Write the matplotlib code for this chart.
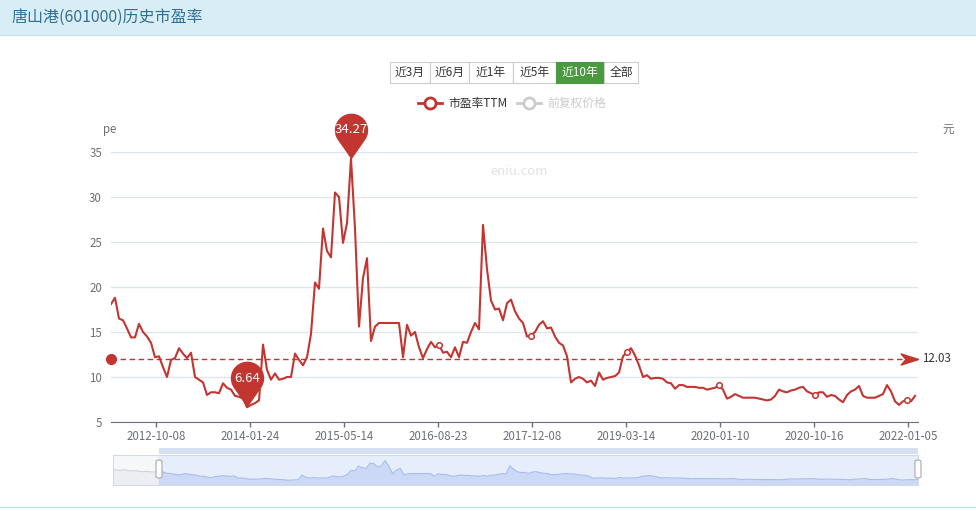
import matplotlib
matplotlib.use("Agg")
import matplotlib.pyplot as plt
import numpy as np
from matplotlib.path import Path
from matplotlib.patches import Rectangle, FancyBboxPatch
from matplotlib.lines import Line2D

plt.rcParams['font.family'] = ['Noto Sans CJK SC', 'DejaVu Sans']

# ---- data (pe ttm, roughly one value every 4 px) ----
title = "唐山港(601000)历史市盈率"
range_buttons = ["近3月", "近6月", "近1年", "近5年", "近10年", "全部"]
active_button = "近10年"
legend_names = ["市盈率TTM", "前复权价格"]
date_labels = ["2012-10-08", "2014-01-24", "2015-05-14", "2016-08-23", "2017-12-08",
               "2019-03-14", "2020-01-10", "2020-10-16", "2022-01-05"]
pe = [18.1, 18.8, 16.5, 16.3, 15.4, 14.4, 14.4, 15.9, 15.0, 14.5,
      13.8, 12.2, 12.3, 11.1, 10.0, 11.9, 12.1, 13.2, 12.6, 12.1,
      12.7, 10.0, 9.7, 9.4, 8.0, 8.3, 8.3, 8.2, 9.3, 8.8,
      8.6, 7.9, 7.8, 7.6, 6.64, 6.9, 7.1, 7.4, 13.6, 10.8,
      9.7, 10.4, 9.7, 9.8, 10.0, 10.0, 12.6, 11.9, 11.3, 12.2,
      14.8, 20.5, 19.8, 26.5, 24.0, 23.3, 30.5, 30.0, 24.9, 27.1,
      34.27, 26.5, 15.6, 21.0, 23.2, 14.0, 15.6, 16.0, 16.0, 16.0,
      16.0, 16.0, 16.0, 12.2, 15.8, 14.6, 15.0, 13.3, 12.1, 13.1,
      13.9, 13.3, 13.6, 12.7, 12.8, 12.2, 13.3, 12.2, 13.9, 13.8,
      15.0, 16.0, 15.3, 26.9, 22.0, 18.5, 17.5, 17.6, 16.3, 18.2,
      18.6, 17.3, 16.5, 16.0, 14.5, 14.6, 15.0, 15.8, 16.2, 15.4,
      15.5, 14.5, 13.8, 13.5, 12.3, 9.4, 9.8, 10.0, 9.8, 9.4,
      9.6, 9.0, 10.5, 9.7, 9.9, 10.0, 10.1, 10.5, 12.3, 12.8,
      13.2, 12.4, 11.3, 10.0, 10.2, 9.8, 9.9, 9.9, 9.8, 9.4,
      9.3, 8.7, 9.1, 9.1, 8.9, 8.9, 8.9, 8.8, 8.8, 8.6,
      8.7, 8.8, 9.1, 8.6, 7.6, 7.8, 8.1, 7.9, 7.7, 7.7,
      7.7, 7.7, 7.6, 7.5, 7.4, 7.5, 7.9, 8.6, 8.4, 8.3,
      8.5, 8.6, 8.8, 8.9, 8.4, 8.2, 8.0, 8.3, 8.3, 7.8,
      8.0, 7.9, 7.5, 7.2, 8.0, 8.4, 8.6, 9.0, 7.9, 7.7,
      7.7, 7.7, 7.9, 8.1, 9.1, 8.4, 7.3, 6.9, 7.3, 7.4,
      7.3, 7.9]
# older history only visible in the zoom slider
early_pe = [22.0, 21.0, 20.5, 21.5, 20.0, 19.5, 20.2, 19.0, 18.6, 19.2, 18.5, 18.2]
avg_pe = 12.03

RED = '#c23531'
GREY = '#6e7079'
W, H = 976, 511


def fx(px):
    return px / W


def fy(py):
    return 1 - py / H


def pin_marker(r=1.0, h=1.75):
    # balloon shape, tip at origin so it sits on the point
    a = np.arcsin(r / h)
    t = np.linspace(-a, np.pi + a, 80)
    verts = np.column_stack([r * np.cos(t), h + r * np.sin(t)])
    verts = np.vstack([[0, 0], verts, [0, 0]])
    return Path(verts, closed=True)


arrow_marker = Path([(0, 0), (-1, 0.32), (-0.72, 0), (-1, -0.32), (0, 0)], closed=True)

fig = plt.figure(figsize=(W / 100, H / 100), dpi=100)

# header band
fig.patches.append(Rectangle((0, fy(35)), 1, 35 / H, transform=fig.transFigure,
                             facecolor='#d9edf7', edgecolor='none', zorder=0))
fig.add_artist(Line2D([0, 1], [fy(35), fy(35)], color='#bce8f1', lw=1))
fig.add_artist(Line2D([0, 1], [fy(507), fy(507)], color='#bce8f1', lw=1))
fig.text(fx(12), fy(17), title, color='#31708f', fontsize=11.5, va='center', ha='left')

# range buttons
edges = [390, 430, 469, 513, 556, 604, 638]
for k, name in enumerate(range_buttons):
    x0, x1 = edges[k], edges[k + 1]
    on = name == active_button
    fig.patches.append(Rectangle((fx(x0), fy(83)), (x1 - x0) / W, 21 / H, transform=fig.transFigure,
                                 facecolor='#4a9a3f' if on else 'white',
                                 edgecolor='#4a9a3f' if on else '#cccccc', lw=0.8))
    fig.text(fx((x0 + x1) / 2), fy(72.5), name, ha='center', va='center', fontsize=8.5,
             color='white' if on else '#333333')

# legend
for lx, name, col, tcol in [(418, legend_names[0], RED, '#333333'), (517, legend_names[1], '#cccccc', '#cccccc')]:
    fig.add_artist(Line2D([fx(lx), fx(lx + 24)], [fy(103), fy(103)], color=col, lw=2))
    fig.add_artist(Line2D([fx(lx + 12)], [fy(103)], marker='o', ms=8, mfc='white', mec=col, mew=2))
    fig.text(fx(lx + 30), fy(103), name, color=tcol, fontsize=8.5, va='center', ha='left')

# main chart
ax = fig.add_axes([fx(111), fy(422), (918 - 111) / W, 270 / H])
idx = np.arange(len(pe))
xmax = (918 - 111) / 4
tick_pos = 11.25 + 23.5 * np.arange(len(date_labels))
mark_idx = [int(round(t)) for t in tick_pos[3:] if round(t) < len(pe)]

ax.plot(idx, pe, color=RED, lw=1.5, zorder=3, marker='o', markevery=mark_idx,
        ms=4, mfc='white', mec=RED, mew=1.1)

ax.set_xlim(0, xmax)
ax.set_ylim(5, 35)
ax.set_yticks(range(5, 40, 5))
ax.set_xticks(tick_pos)
ax.set_xticklabels(date_labels)
ax.yaxis.grid(True, color='#e0e6f1', lw=1)
ax.set_axisbelow(True)
for s in ['top', 'right', 'left']:
    ax.spines[s].set_visible(False)
ax.spines['bottom'].set_color(GREY)
ax.tick_params(axis='y', length=0, pad=6.5, labelsize=8.3, labelcolor=GREY)
ax.tick_params(axis='x', length=3.6, width=1, color=GREY, pad=2.5, labelsize=8.3, labelcolor=GREY)

# average line
ax.plot([0, xmax], [avg_pe, avg_pe], ls=(0, (4, 2.5)), color=RED, lw=1, zorder=2)
ax.plot(0, avg_pe, 'o', color=RED, ms=7, clip_on=False, zorder=4)
ax.plot(xmax, avg_pe, marker=arrow_marker, color=RED, ms=25, clip_on=False, zorder=4)
ax.annotate(f'{avg_pe:.2f}', (xmax, avg_pe), xytext=(3, 0), textcoords='offset points',
            va='center', ha='left', fontsize=8.3, color='#333333', annotation_clip=False)

# max / min pins
pin = pin_marker()
for i in [int(np.argmax(pe)), int(np.argmin(pe))]:
    ax.plot(i, pe[i], marker=pin, ms=66, color=RED, mew=0, clip_on=False, zorder=5)
    ax.annotate(f'{pe[i]:.2f}', (i, pe[i]), xytext=(0, 21), textcoords='offset points',
                ha='center', va='center', fontsize=9.5, color='white', zorder=6,
                annotation_clip=False)

# axis names and watermark
fig.text(fx(110), fy(130), 'pe', ha='center', va='center', fontsize=8.3, color=GREY)
fig.text(fx(948), fy(130), '元', ha='center', va='center', fontsize=8.3, color=GREY)
fig.text(fx(519), fy(171), 'eniu.com', ha='center', va='center', fontsize=9.5, color='#e3e3e3')

# zoom slider
full = early_pe + pe
n0 = len(early_pe)
sax = fig.add_axes([fx(113), fy(485), (918 - 113) / W, 30 / H])
sx = np.arange(len(full))
sax.axvspan(0, n0, color='#f6f7f9', lw=0)
sax.axvspan(n0, len(full) - 1, color='#e6edfb', lw=0)
sax.fill_between(sx[:n0 + 1], full[:n0 + 1], color='#eceef2', lw=0)
sax.plot(sx[:n0 + 1], full[:n0 + 1], color='#d0d3da', lw=0.8)
sax.fill_between(sx[n0:], full[n0:], color='#cbd8f6', lw=0)
sax.plot(sx[n0:], full[n0:], color='#a9bcec', lw=0.8)
sax.set_xlim(0, len(full) - 1)
sax.set_ylim(0, 42)
sax.set_xticks([])
sax.set_yticks([])
for s in sax.spines.values():
    s.set_color('#d2dbee')

fig.patches.append(Rectangle((fx(159), fy(454)), (918 - 159) / W, 6 / H, transform=fig.transFigure,
                             facecolor='#d7e0f2', edgecolor='none'))
for hx in [159, 918]:
    fig.patches.append(FancyBboxPatch((fx(hx - 3), fy(478)), 6 / W, 18 / H, transform=fig.transFigure,
                                      boxstyle='round,pad=0,rounding_size=0.003',
                                      facecolor='white', edgecolor='#aaaaaa', lw=0.8, zorder=5))

plt.savefig("out.png", dpi=100)
